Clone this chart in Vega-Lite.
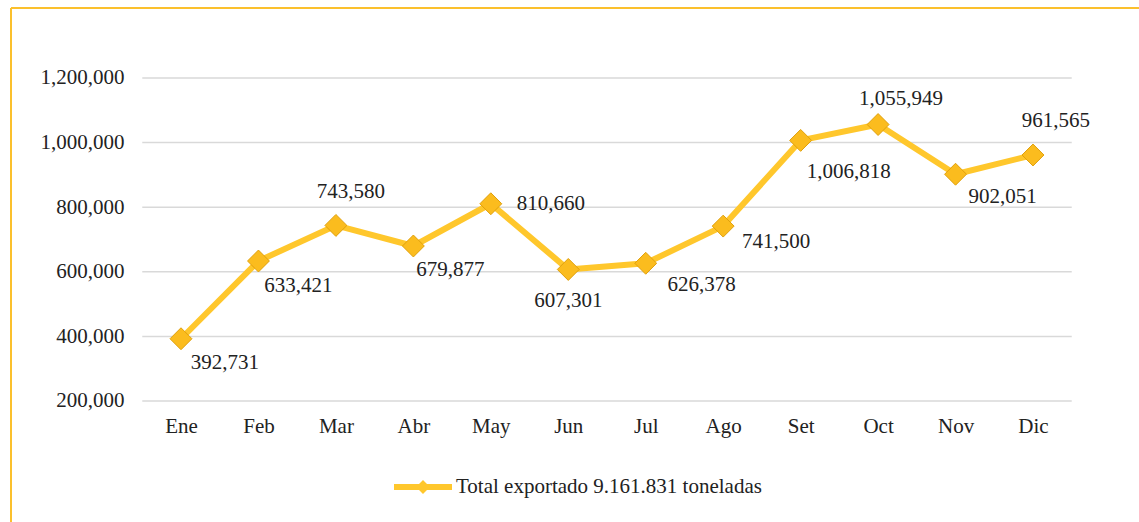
{
  "$schema": "https://vega.github.io/schema/vega-lite/v6.json",
  "autosize": "none",
  "width": 1128,
  "height": 514,
  "padding": {"left": 11, "top": 8, "right": 0, "bottom": 0},
  "background": "#ffffff",
  "datasets": {
    "meses": [
      {"mes": "Ene", "n": 1, "valor": 392731},
      {"mes": "Feb", "n": 2, "valor": 633421},
      {"mes": "Mar", "n": 3, "valor": 743580},
      {"mes": "Abr", "n": 4, "valor": 679877},
      {"mes": "May", "n": 5, "valor": 810660},
      {"mes": "Jun", "n": 6, "valor": 607301},
      {"mes": "Jul", "n": 7, "valor": 626378},
      {"mes": "Ago", "n": 8, "valor": 741500},
      {"mes": "Set", "n": 9, "valor": 1006818},
      {"mes": "Oct", "n": 10, "valor": 1055949},
      {"mes": "Nov", "n": 11, "valor": 902051},
      {"mes": "Dic", "n": 12, "valor": 961565}
    ],
    "grid": [
      {"valor": 200000}, {"valor": 400000}, {"valor": 600000}, {"valor": 800000}, {"valor": 1000000}, {"valor": 1200000}
    ]
  },
  "layer": [
    {
      "data": {"name": "grid"},
      "mark": {"type": "rule", "color": "#d9d9d9", "strokeWidth": 1.5},
      "encoding": {
        "x": {
          "datum": 0.5, "type": "quantitative",
          "scale": {"domain": [-1.1948, 13.3686], "nice": false, "zero": false},
          "axis": {
            "values": [1, 2, 3, 4, 5, 6, 7, 8, 9, 10, 11, 12],
            "labelExpr": "['Ene','Feb','Mar','Abr','May','Jun','Jul','Ago','Set','Oct','Nov','Dic'][datum.value - 1]",
            "offset": -96, "labelPadding": 0, "labelBaseline": "middle",
            "labelOverlap": false, "labelFlush": false, "title": null,
            "labelFont": "Liberation Serif", "labelFontSize": 21, "labelColor": "#222222"
          }
        },
        "x2": {"datum": 12.5},
        "y": {
          "field": "valor", "type": "quantitative",
          "scale": {"domain": [-174613, 1416718], "nice": false, "zero": false},
          "axis": {
            "values": [200000, 400000, 600000, 800000, 1000000, 1200000],
            "labelExpr": "format(datum.value, ',')",
            "offset": -113, "labelPadding": 0,
            "labelOverlap": false, "labelFlush": false, "title": null,
            "labelFont": "Liberation Serif", "labelFontSize": 21, "labelColor": "#222222"
          }
        }
      }
    },
    {
      "data": {"name": "grid"},
      "transform": [{"filter": "datum.valor == 1200000"}],
      "mark": {"type": "rule", "color": "#FBC02D", "strokeWidth": 2, "clip": false},
      "encoding": {
        "x": {"datum": -1.1948, "type": "quantitative"},
        "x2": {"datum": 13.3686},
        "y": {"datum": 1416718, "type": "quantitative"}
      }
    },
    {
      "data": {"name": "grid"},
      "transform": [{"filter": "datum.valor == 1200000"}],
      "mark": {"type": "rule", "color": "#FBC02D", "strokeWidth": 2, "clip": false},
      "encoding": {
        "x": {"datum": -1.1948, "type": "quantitative"},
        "y": {"datum": 1416718, "type": "quantitative"},
        "y2": {"datum": -174613}
      }
    },
    {
      "data": {"name": "meses"},
      "encoding": {
        "x": {"field": "n", "type": "quantitative"},
        "y": {"field": "valor", "type": "quantitative"}
      },
      "layer": [
        {
          "mark": {"type": "line", "strokeWidth": 6, "strokeJoin": "round", "strokeCap": "round"},
          "encoding": {
            "color": {
              "datum": "Total exportado 9.161.831 toneladas", "type": "nominal",
              "scale": {"range": ["#FFC72C"]},
              "legend": {
                "orient": "none", "legendX": 383, "legendY": 450, "padding": 0,
                "title": null, "symbolSize": 3364, "labelOffset": 4,
                "labelFont": "Liberation Serif", "labelFontSize": 21, "labelColor": "#222222",
                "labelLimit": 600,
                "encode": {
                  "labels": {
                    "update": {
                      "font": {"value": "Liberation Serif"},
                      "fontSize": {"value": 21},
                      "fill": {"value": "#222222"}
                    }
                  },
                  "symbols": {
                    "update": {
                      "shape": {"value": "M-1,-0.1H1V0.1H-1Z M0,-0.24L0.24,0L0,0.24L-0.24,0Z"},
                      "fill": {"value": "#FFC72C"},
                      "stroke": {"value": "transparent"},
                      "strokeWidth": {"value": 0},
                      "size": {"value": 3364}
                    }
                  }
                }
              }
            }
          }
        },
        {
          "mark": {"type": "point", "shape": "diamond", "size": 480, "filled": true, "fill": "#FBBC1E", "stroke": "#E0A00C", "strokeWidth": 1, "opacity": 1}
        },
        {"transform": [{"filter": "datum.mes == 'Ene'"}], "mark": {"type": "text", "dx": 44, "dy": 24}, "encoding": {"text": {"field": "valor", "format": ","}}},
        {"transform": [{"filter": "datum.mes == 'Feb'"}], "mark": {"type": "text", "dx": 40, "dy": 25}, "encoding": {"text": {"field": "valor", "format": ","}}},
        {"transform": [{"filter": "datum.mes == 'Mar'"}], "mark": {"type": "text", "dx": 15, "dy": -33}, "encoding": {"text": {"field": "valor", "format": ","}}},
        {"transform": [{"filter": "datum.mes == 'Abr'"}], "mark": {"type": "text", "dx": 37, "dy": 24}, "encoding": {"text": {"field": "valor", "format": ","}}},
        {"transform": [{"filter": "datum.mes == 'May'"}], "mark": {"type": "text", "dx": 60, "dy": 0}, "encoding": {"text": {"field": "valor", "format": ","}}},
        {"transform": [{"filter": "datum.mes == 'Jun'"}], "mark": {"type": "text", "dx": 0, "dy": 32}, "encoding": {"text": {"field": "valor", "format": ","}}},
        {"transform": [{"filter": "datum.mes == 'Jul'"}], "mark": {"type": "text", "dx": 56, "dy": 22}, "encoding": {"text": {"field": "valor", "format": ","}}},
        {"transform": [{"filter": "datum.mes == 'Ago'"}], "mark": {"type": "text", "dx": 53, "dy": 16}, "encoding": {"text": {"field": "valor", "format": ","}}},
        {"transform": [{"filter": "datum.mes == 'Set'"}], "mark": {"type": "text", "dx": 48, "dy": 32}, "encoding": {"text": {"field": "valor", "format": ","}}},
        {"transform": [{"filter": "datum.mes == 'Oct'"}], "mark": {"type": "text", "dx": 23, "dy": -26}, "encoding": {"text": {"field": "valor", "format": ","}}},
        {"transform": [{"filter": "datum.mes == 'Nov'"}], "mark": {"type": "text", "dx": 47, "dy": 23}, "encoding": {"text": {"field": "valor", "format": ","}}},
        {"transform": [{"filter": "datum.mes == 'Dic'"}], "mark": {"type": "text", "dx": 23, "dy": -34}, "encoding": {"text": {"field": "valor", "format": ","}}}
      ]
    }
  ],
  "config": {
    "font": "Liberation Serif",
    "view": {"stroke": null, "fill": "#ffffff"},
    "axis": {
      "labelFont": "Liberation Serif", "labelFontSize": 21, "labelColor": "#222222",
      "grid": false, "domain": false, "ticks": false
    },
    "legend": {"labelFont": "Liberation Serif", "labelFontSize": 21, "labelColor": "#222222"},
    "text": {"font": "Liberation Serif", "fontSize": 21, "color": "#222222", "baseline": "middle", "align": "center"}
  }
}
